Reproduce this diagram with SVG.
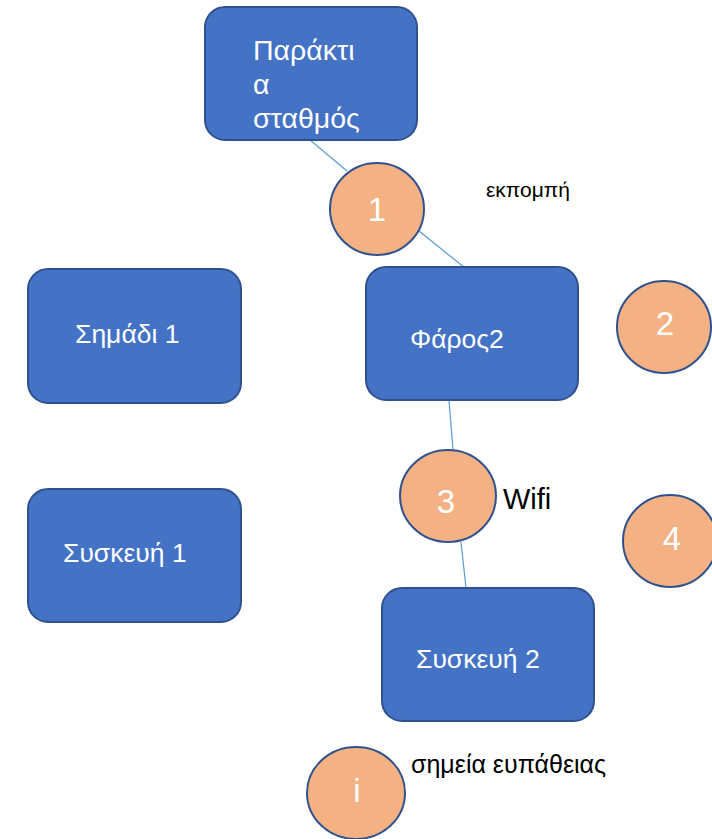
<svg xmlns="http://www.w3.org/2000/svg" width="712" height="839" viewBox="0 0 712 839">
  <style>
    .box { fill: #4472C4; stroke: #2F528F; stroke-width: 2; }
    .dot { fill: #F4B183; stroke: #2F528F; stroke-width: 2; }
    .wire { stroke: #5B9BD5; stroke-width: 1.2; fill: none; }
    .lbl { font-family: "Liberation Sans", Arial, sans-serif; fill: #ffffff; font-size: 26.5px; }
    .big { font-size: 28.5px; }
    .num { font-family: "Liberation Sans", Arial, sans-serif; fill: #ffffff; font-size: 33px; text-anchor: middle; }
    .note { font-family: "Liberation Sans", Arial, sans-serif; fill: #000000; }
  </style>
  <rect width="712" height="839" fill="#ffffff"/>

  <g id="connectors">
    <line class="wire" x1="310" y1="140" x2="347" y2="171"/>
    <line class="wire" x1="419" y1="231" x2="465" y2="268"/>
    <line class="wire" x1="449" y1="400" x2="453" y2="450"/>
    <line class="wire" x1="461" y1="542" x2="466" y2="588"/>
  </g>

  <g id="paraktios">
    <rect class="box" x="205" y="7" width="212" height="133" rx="20"/>
    <text class="lbl big" x="253" y="60">Παράκτι</text>
    <text class="lbl big" x="253" y="94">α</text>
    <text class="lbl big" x="253" y="128">σταθμός</text>
  </g>

  <g id="simadi1">
    <rect class="box" x="28" y="269" width="213" height="134" rx="20"/>
    <text class="lbl" x="75" y="343">Σημάδι 1</text>
  </g>

  <g id="faros2">
    <rect class="box" x="366" y="267" width="212" height="133" rx="20"/>
    <text class="lbl" x="410" y="348">Φάρος2</text>
  </g>

  <g id="syskevi1">
    <rect class="box" x="28" y="489" width="213" height="133" rx="20"/>
    <text class="lbl" x="63" y="562">Συσκευή 1</text>
  </g>

  <g id="syskevi2">
    <rect class="box" x="382" y="588" width="212" height="133" rx="20"/>
    <text class="lbl" x="416" y="668">Συσκευή 2</text>
  </g>

  <g id="point1">
    <ellipse class="dot" cx="377" cy="209" rx="47" ry="46"/>
    <text class="num" x="377" y="221">1</text>
  </g>

  <g id="point2">
    <ellipse class="dot" cx="664" cy="327" rx="47" ry="46"/>
    <text class="num" x="665" y="335">2</text>
  </g>

  <g id="point3">
    <ellipse class="dot" cx="448" cy="496" rx="48" ry="46"/>
    <text class="num" x="446" y="513">3</text>
  </g>

  <g id="point4">
    <ellipse class="dot" cx="670" cy="541" rx="47" ry="46"/>
    <text class="num" x="672" y="550">4</text>
  </g>

  <g id="point-i">
    <ellipse class="dot" cx="356" cy="793" rx="49" ry="46"/>
    <text class="num" x="357" y="802">i</text>
  </g>

  <g id="notes">
    <text class="note" x="486" y="197" font-size="21">εκπομπή</text>
    <text class="note" x="503" y="509" font-size="29">Wifi</text>
    <text class="note" x="411" y="773" font-size="25">σημεία ευπάθειας</text>
  </g>
</svg>
